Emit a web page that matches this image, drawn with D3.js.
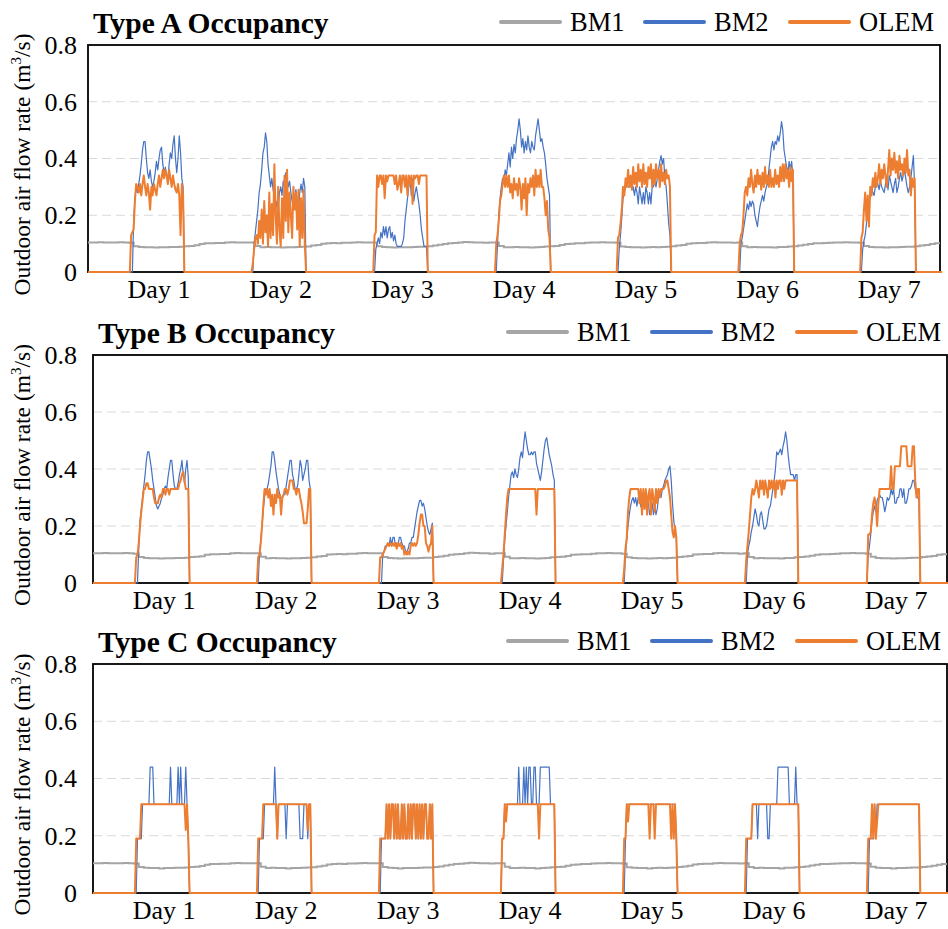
<!DOCTYPE html>
<html>
<head>
<meta charset="utf-8">
<script src="https://cdn.jsdelivr.net/npm/d3@7"></script>
<style>
  body { margin: 0; background: #fff; }
  svg { display: block; }
  svg text { font-family: "Liberation Serif", "Times New Roman", serif !important; }
</style>
</head>
<body>
<svg id="chart" width="948" height="929"></svg>
<script>
// ---- data ----
var panelNames = ["Type A Occupancy", "Type B Occupancy", "Type C Occupancy"];
var seriesNames = ["BM1", "BM2", "OLEM"];
var days = ["Day 1", "Day 2", "Day 3", "Day 4", "Day 5", "Day 6", "Day 7"];
var dayLabelHour = 13.9;           // hour of the day under which the label sits
var yTicks = [0, 0.2, 0.4, 0.6, 0.8];
var yTickLabels = ["0", "0.2", "0.4", "0.6", "0.8"];
var slotStart = 8.5;               // first occupied slot of each day (h)
var slotLen = 0.25;                // 15 min slots

// BM1, hourly, same schedule in all three cases
var bm1 = [
  [.104,.104,.105,.104,.104,.104,.105,.104,.103,.091,.088,.087,.087,.086,.087,.087,.088,.088,.089,.091,.092,.094,.099,.101],
  [.101,.102,.102,.104,.105,.104,.104,.104,.104,.092,.087,.088,.087,.087,.086,.087,.087,.088,.089,.090,.093,.095,.100,.101],
  [.102,.101,.103,.103,.104,.105,.104,.104,.104,.091,.088,.087,.086,.087,.087,.087,.088,.089,.089,.091,.093,.096,.099,.101],
  [.102,.104,.106,.105,.104,.104,.103,.104,.104,.092,.087,.087,.088,.087,.087,.086,.087,.088,.090,.091,.092,.095,.099,.100],
  [.101,.101,.103,.104,.104,.105,.104,.104,.103,.090,.088,.087,.087,.086,.087,.088,.087,.088,.089,.091,.093,.095,.100,.101],
  [.102,.102,.104,.105,.104,.104,.104,.103,.104,.091,.087,.088,.087,.087,.087,.086,.088,.088,.090,.091,.093,.096,.099,.101],
  [.101,.102,.103,.104,.104,.105,.104,.104,.103,.092,.088,.087,.087,.086,.087,.087,.088,.089,.089,.091,.093,.095,.099,.101]
];

// Type A
var bm2A = [
  [0,0,.18,.26,.30,.28,.31,.34,.38,.43, .46,.46,.40,.35,.33,.36,.32,.30,.32,.35, .39,.36,.40,.43,.44,.38,.35,.37,.34,.33, .38,.42,.40,.45,.48,.40,.35,.40,.48,.42, .33,.30],
  [0,.10,.14,.18,.22,.28,.31,.36,.42,.44, .49,.46,.38,.34,.30,.33,.29,.26,.22,.25, .22,.28,.30,.27,.32,.30,.35,.33,.30,.32, .28,.25,.22,.26,.29,.25,.22,.28,.31,.28, .33,.30],
  [0,.08,.10,.12,.10,.14,.12,.16,.13,.16, .12,.15,.16,.12,.14,.11,.13,.10,.09,.09, .09,.09,.10,.12,.18,.22,.26,.30,.33,.27, .33,.25,.28,.30,.27,.24,.20,.15,.12,.09, .09,.09],
  [0,.10,.20,.26,.30,.33,.31,.36,.34,.38, .42,.37,.44,.40,.45,.42,.47,.50,.54,.50, .44,.47,.42,.46,.43,.48,.44,.42,.46,.44, .43,.48,.51,.54,.50,.46,.47,.44,.42,.38, .33,.30,.27],
  [0,.08,.13,.19,.26,.28,.30,.31,.30,.30, .31,.29,.30,.27,.30,.28,.24,.30,.27,.24, .28,.24,.30,.28,.24,.28,.24,.30,.30,.32, .30,.33,.36,.39,.41,.38,.40,.33,.30,.24, .17,.13],
  [0,.10,.12,.15,.18,.21,.24,.22,.25,.23, .25,.24,.20,.18,.16,.20,.23,.25,.27,.25, .28,.30,.31,.36,.40,.44,.46,.43,.46,.45, .48,.46,.49,.53,.50,.43,.40,.37,.35,.39, .36,.39,.33],
  [0,.08,.11,.13,.17,.21,.25,.28,.30,.28, .27,.30,.33,.31,.29,.32,.30,.29,.28,.31, .33,.29,.34,.32,.30,.28,.31,.33,.28,.30, .33,.35,.32,.34,.36,.33,.30,.28,.30,.33, .37,.41,.30]
];
var olemA = [
  [.13,.14,.15,.25,.31,.30,.28,.31,.27,.31, .34,.30,.27,.31,.28,.22,.30,.27,.31,.29, .27,.31,.34,.30,.33,.36,.33,.36,.34,.31, .36,.33,.30,.34,.31,.29,.28,.31,.27,.13, .31,.27],
  [.03,.08,.12,.13,.10,.18,.12,.22,.10,.25, .14,.20,.09,.28,.12,.24,.13,.38,.20,.10, .30,.15,.09,.26,.12,.34,.18,.36,.14,.28, .20,.12,.30,.22,.28,.15,.29,.09,.26,.12, .29,.10],
  [.13,.14,.34,.30,.34,.34,.31,.34,.26,.34, .32,.34,.34,.34,.34,.34,.31,.34,.29,.31, .34,.28,.34,.34,.30,.34,.27,.34,.31,.34, .24,.34,.33,.34,.34,.31,.34,.34,.34,.34, .34,.34],
  [.10,.13,.18,.25,.27,.31,.34,.30,.34,.30, .34,.28,.31,.26,.33,.29,.31,.27,.33,.30, .22,.31,.26,.33,.20,.31,.28,.33,.30,.34, .27,.36,.30,.34,.30,.36,.30,.30,.26,.20, .25,.15,.12],
  [.12,.13,.17,.22,.30,.27,.33,.30,.36,.30, .34,.29,.37,.31,.35,.30,.38,.32,.36,.30, .38,.31,.35,.30,.37,.33,.38,.30,.36,.31, .38,.33,.36,.30,.38,.32,.35,.31,.36,.33, .34,.30],
  [.10,.13,.14,.20,.28,.30,.27,.33,.30,.36, .31,.28,.34,.30,.36,.31,.34,.29,.35,.30, .37,.31,.34,.30,.36,.30,.33,.30,.36,.31, .34,.30,.37,.32,.38,.32,.38,.33,.36,.30, .37,.32,.36],
  [.12,.14,.22,.28,.18,.27,.16,.30,.27,.33, .30,.35,.30,.33,.38,.31,.36,.33,.38,.34, .30,.36,.43,.34,.40,.36,.42,.35,.39,.33, .41,.36,.38,.34,.40,.35,.43,.34,.36,.27, .33,.30,.33]
];

// Type B
var bm2B = [
  [0,0,.12,.22,.26,.30,.34,.38,.43,.46, .46,.43,.40,.36,.33,.30,.27,.26,.27,.28, .30,.31,.33,.34,.33,.37,.40,.43,.43,.38, .34,.33,.33,.35,.38,.40,.43,.38,.35,.40, .43,.37],
  [0,.10,.15,.20,.26,.30,.33,.33,.35,.38, .41,.46,.46,.43,.39,.36,.33,.31,.30,.30, .31,.31,.34,.37,.40,.43,.43,.38,.36,.33, .33,.34,.38,.43,.41,.36,.38,.40,.43,.43, .36,.33],
  [0,0,.10,.11,.13,.13,.14,.13,.16,.13, .16,.16,.13,.14,.13,.16,.16,.14,.13,.13, .11,.11,.12,.14,.14,.16,.16,.19,.22,.25, .27,.29,.29,.27,.28,.26,.23,.20,.18,.17, .19,.21],
  [0,.08,.15,.20,.25,.30,.34,.38,.39,.37, .40,.38,.37,.40,.44,.46,.44,.49,.53,.50, .47,.45,.45,.46,.45,.46,.46,.42,.40,.38, .36,.39,.43,.47,.50,.51,.48,.45,.43,.41, .38,.36],
  [0,.10,.15,.20,.24,.27,.29,.30,.28,.30, .27,.30,.30,.27,.26,.28,.30,.27,.30,.28, .24,.26,.28,.24,.27,.24,.26,.30,.31,.30, .33,.34,.36,.37,.38,.40,.41,.36,.28,.22, .18,.16],
  [0,.10,.13,.15,.18,.20,.23,.26,.24,.21, .20,.24,.25,.22,.19,.19,.20,.23,.26,.27, .30,.33,.36,.40,.46,.45,.46,.47,.45,.48, .50,.53,.50,.45,.41,.38,.38,.38,.36,.38, .38],
  [.10,.13,.17,.22,.25,.27,.25,.29,.30,.31, .30,.30,.28,.25,.27,.30,.29,.30,.33,.31, .33,.28,.28,.30,.30,.33,.33,.30,.33,.28, .28,.30,.33,.33,.34,.36,.36,.33,.31,.30, .29]
];
var olemB = [
  [.09,.10,.14,.20,.25,.29,.33,.33,.35,.35, .33,.33,.33,.33,.30,.28,.28,.28,.30,.31, .30,.33,.33,.31,.33,.33,.31,.33,.33,.33, .33,.33,.33,.33,.35,.36,.38,.39,.36,.33, .33,.33],
  [.09,.10,.14,.20,.27,.33,.31,.33,.30,.33, .27,.31,.24,.31,.28,.33,.30,.31,.24,.30, .31,.33,.33,.31,.33,.36,.36,.36,.33,.33, .31,.33,.33,.30,.28,.25,.21,.21,.21,.26, .33,.33],
  [.09,.09,.10,.11,.12,.13,.14,.13,.14,.13, .14,.13,.14,.12,.14,.13,.14,.12,.13,.10, .11,.10,.11,.10,.13,.14,.13,.14,.13,.14, .17,.21,.24,.24,.20,.20,.14,.13,.11,.13, .14,.20],
  [.05,.10,.17,.24,.30,.33,.33,.33,.33,.33, .33,.33,.33,.33,.33,.33,.33,.33,.33,.33, .33,.33,.33,.33,.33,.33,.33,.24,.33,.33, .33,.33,.33,.33,.33,.33,.33,.33,.33,.33, .33,.33],
  [.05,.12,.16,.25,.30,.33,.33,.33,.33,.33, .33,.33,.28,.33,.24,.33,.26,.33,.24,.31, .33,.24,.33,.30,.25,.33,.28,.33,.30,.33, .33,.33,.34,.36,.36,.33,.30,.24,.18,.16, .20,.16],
  [.08,.13,.18,.24,.30,.33,.31,.33,.36,.33, .30,.36,.33,.36,.31,.36,.33,.30,.36,.33, .36,.33,.36,.30,.36,.33,.36,.36,.31,.36, .33,.36,.36,.36,.36,.36,.36,.36,.36,.36, .36],
  [.17,.17,.18,.24,.28,.30,.27,.20,.28,.33, .33,.33,.33,.33,.33,.33,.33,.33,.41,.33, .33,.41,.41,.41,.41,.41,.48,.48,.48,.48, .48,.41,.41,.41,.41,.48,.48,.36,.30,.33, .33]
];

// Type C
var bm2C = [
  [0,.19,.19,.19,.19,.31,.31,.31,.31,.31, .31,.44,.44,.44,.31,.31,.31,.31,.31,.31, .31,.31,.31,.31,.31,.31,.31,.44,.31,.31, .31,.31,.31,.44,.31,.44,.31,.31,.31,.44, .31,.19],
  [0,.19,.19,.19,.19,.31,.31,.31,.31,.31, .31,.31,.31,.44,.31,.19,.31,.31,.31,.31, .31,.31,.19,.31,.31,.31,.31,.31,.31,.31, .31,.31,.31,.19,.19,.19,.31,.31,.31,.19, .31,.31],
  [0,.19,.19,.19,.19,.31,.19,.31,.19,.31, .31,.19,.31,.19,.31,.19,.19,.31,.19,.31, .19,.19,.31,.19,.31,.19,.31,.31,.19,.31, .19,.31,.19,.31,.19,.31,.31,.19,.19,.31, .19,.31],
  [.19,.19,.31,.31,.31,.31,.31,.31,.31,.31, .31,.31,.31,.44,.31,.31,.31,.44,.31,.44, .31,.44,.44,.31,.31,.44,.44,.31,.31,.31, .44,.44,.44,.44,.44,.44,.44,.44,.31,.31, .31,.31],
  [0,.19,.31,.31,.31,.31,.31,.31,.31,.31, .31,.31,.31,.31,.31,.31,.31,.31,.31,.31, .31,.31,.31,.31,.31,.31,.31,.31,.31,.31, .31,.31,.31,.31,.31,.31,.31,.31,.31,.31, .31,.19],
  [0,.19,.19,.19,.19,.31,.31,.31,.31,.19, .31,.31,.31,.31,.31,.31,.31,.19,.19,.31, .31,.31,.31,.31,.31,.44,.44,.44,.44,.44, .44,.44,.44,.44,.31,.31,.31,.31,.31,.44, .31,.31],
  [0,.19,.19,.19,.19,.31,.19,.31,.31,.31, .31,.31,.31,.31,.31,.31,.31,.31,.31,.31, .31,.31,.31,.31,.31,.31,.31,.31,.31,.31, .31,.31,.31,.31,.31,.31,.31,.31,.31,.31, .31]
];
var olemC = [
  [.19,.19,.19,.19,.31,.31,.31,.31,.31,.31, .31,.31,.31,.31,.31,.31,.31,.31,.31,.31, .31,.31,.31,.31,.31,.31,.31,.31,.31,.31, .31,.31,.31,.31,.31,.31,.31,.31,.31,.22, .31,.19],
  [.19,.19,.19,.19,.31,.31,.31,.31,.31,.31, .31,.31,.31,.31,.31,.19,.31,.31,.31,.31, .31,.31,.31,.31,.31,.31,.31,.31,.31,.31, .31,.31,.31,.31,.31,.31,.31,.31,.31,.22, .31,.31],
  [.19,.19,.19,.19,.19,.31,.19,.31,.19,.31, .31,.19,.31,.19,.31,.19,.19,.31,.19,.31, .19,.19,.31,.19,.31,.19,.31,.31,.19,.31, .19,.31,.19,.31,.19,.31,.31,.19,.19,.31, .19,.31],
  [.19,.19,.31,.25,.31,.31,.31,.31,.31,.31, .31,.31,.31,.31,.31,.31,.31,.31,.31,.31, .31,.31,.31,.31,.31,.31,.31,.31,.31,.19, .31,.31,.31,.31,.31,.31,.31,.31,.31,.31, .31,.31],
  [.19,.19,.31,.25,.31,.31,.31,.31,.31,.31, .31,.31,.31,.31,.31,.31,.31,.31,.31,.31, .19,.31,.31,.31,.19,.31,.31,.31,.31,.31, .31,.31,.31,.31,.31,.31,.31,.19,.31,.19, .31,.19],
  [.19,.19,.19,.19,.19,.31,.31,.31,.31,.31, .31,.31,.31,.31,.31,.31,.31,.31,.31,.31, .31,.31,.31,.31,.31,.31,.31,.31,.31,.31, .31,.31,.31,.31,.31,.31,.31,.31,.31,.31, .31,.31],
  [.19,.19,.19,.31,.19,.31,.19,.25,.31,.31, .31,.31,.31,.31,.31,.31,.31,.31,.31,.31, .31,.31,.31,.31,.31,.31,.31,.31,.31,.31, .31,.31,.31,.31,.31,.31,.31,.31,.31,.31, .31]
];

// ---- layout ----
var colors = { BM1: "#a5a5a5", BM2: "#4472c4", OLEM: "#ed7d31" };
var widths = { BM1: 2, BM2: 1.2, OLEM: 2 };
var serifFont = "Liberation Serif";

var panels = [
  { left: 88, top: 45,  right: 940, bottom: 272, bm2: bm2A, olem: olemA },
  { left: 93, top: 355, right: 947, bottom: 583, bm2: bm2B, olem: olemB },
  { left: 93, top: 664, right: 947, bottom: 893, bm2: bm2C, olem: olemC }
];

var svg = d3.select("#chart");

// occupied-period series -> points in hours
function occPoints(dayArrays) {
  var pts = [{ h: 0, v: 0 }];
  dayArrays.forEach(function(vals, d) {
    var t0 = 24 * d + slotStart;
    pts.push({ h: t0 - slotLen, v: 0 });
    vals.forEach(function(v, k) { pts.push({ h: t0 + k * slotLen, v: v }); });
    pts.push({ h: t0 + vals.length * slotLen, v: 0 });
  });
  pts.push({ h: 168.4, v: 0 });
  return pts;
}

function bm1Points() {
  var flat = [].concat.apply([], bm1);
  var pts = flat.map(function(v, i) { return { h: i, v: v }; });
  pts.push({ h: flat.length, v: flat[flat.length - 1] });
  return pts;
}

panels.forEach(function(p, pi) {
  var x = d3.scaleLinear().domain([0, 168]).range([p.left, p.right]);
  var y = d3.scaleLinear().domain([0, 0.8]).range([p.bottom, p.top]);
  var g = svg.append("g");

  // grid
  g.selectAll("line.grid").data([0.2, 0.4, 0.6]).enter().append("line")
    .attr("x1", p.left).attr("x2", p.right)
    .attr("y1", function(d) { return y(d); }).attr("y2", function(d) { return y(d); })
    .attr("stroke", "#d9d9d9").attr("stroke-width", 1.2)
    .attr("stroke-dasharray", "9,5");

  // frame
  g.append("rect")
    .attr("x", p.left).attr("y", p.top)
    .attr("width", p.right - p.left).attr("height", p.bottom - p.top)
    .attr("fill", "none").attr("stroke", "#000").attr("stroke-width", 1.8);

  // y axis labels
  var yAxis = d3.axisLeft(y).tickValues(yTicks)
    .tickFormat(function(d, i) { return yTickLabels[i]; })
    .tickSize(0).tickPadding(p.left - 77);
  var ya = g.append("g").attr("transform", "translate(" + p.left + ",0)").call(yAxis)
    .attr("font-family", serifFont).attr("font-size", 26);
  ya.select(".domain").remove();
  ya.selectAll("text").attr("fill", "#000");

  // day labels
  var dayHours = days.map(function(d, i) { return 24 * i + dayLabelHour; });
  var xAxis = d3.axisBottom(x).tickValues(dayHours)
    .tickFormat(function(d, i) { return days[i]; })
    .tickSize(0).tickPadding(8);
  var xa = g.append("g").attr("transform", "translate(0," + p.bottom + ")").call(xAxis)
    .attr("font-family", serifFont).attr("font-size", 26);
  xa.select(".domain").remove();
  xa.selectAll("text").attr("fill", "#000");

  // y title
  var cy = (p.top + p.bottom) / 2 + 6;
  var yt = g.append("text")
    .attr("transform", "translate(30," + cy + ") rotate(-90)")
    .attr("text-anchor", "middle")
    .attr("font-family", serifFont).attr("font-size", 23.5).attr("fill", "#000");
  yt.append("tspan").text("Outdoor air flow rate (m");
  yt.append("tspan").attr("font-size", 15).attr("dy", -9).text("3");
  yt.append("tspan").attr("dy", 9).text("/s)");

  // title
  g.append("text").attr("x", p.left + 5).attr("y", p.top - 12)
    .attr("font-family", serifFont).attr("font-size", 29.5).attr("font-weight", "bold")
    .attr("fill", "#000").text(panelNames[pi]);

  // legend
  var legOff = [-439, -295, -150];
  seriesNames.forEach(function(s, si) {
    var lx = p.right + legOff[si];
    g.append("line").attr("x1", lx).attr("x2", lx + 59)
      .attr("y1", p.top - 23).attr("y2", p.top - 23)
      .attr("stroke", colors[s]).attr("stroke-width", 4).attr("stroke-linecap", "round");
    g.append("text").attr("x", lx + 69).attr("y", p.top - 14)
      .attr("font-family", serifFont).attr("font-size", 26.5).attr("fill", "#000").text(s);
  });

  // series
  var line = d3.line().x(function(d) { return x(d.h); }).y(function(d) { return y(d.v); });
  var stepLine = d3.line().curve(d3.curveStepAfter)
    .x(function(d) { return x(d.h); }).y(function(d) { return y(d.v); });

  g.append("path").datum(bm1Points()).attr("d", stepLine)
    .attr("fill", "none").attr("stroke", colors.BM1).attr("stroke-width", widths.BM1);
  g.append("path").datum(occPoints(p.bm2)).attr("d", line)
    .attr("fill", "none").attr("stroke", colors.BM2).attr("stroke-width", widths.BM2)
    .attr("stroke-linejoin", "round");
  g.append("path").datum(occPoints(p.olem)).attr("d", line)
    .attr("fill", "none").attr("stroke", colors.OLEM).attr("stroke-width", widths.OLEM)
    .attr("stroke-linejoin", "round");
});
</script>
</body>
</html>
